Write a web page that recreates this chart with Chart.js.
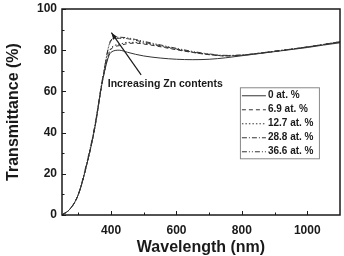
<!DOCTYPE html>
<html lang="en">
<head>
<meta charset="UTF-8">
<title>Transmittance vs wavelength</title>
<script src="https://cdn.jsdelivr.net/npm/chart.js"></script>
<style>
  body { margin: 0; background: #fff; }
</style>
</head>
<body>
<canvas id="chart" width="344" height="256"></canvas>
<script>
// wavelength (nm) sample points
const wavelengths = [250, 275, 300, 325, 350, 375, 400, 425, 450, 475, 500, 550, 600, 650, 700, 750, 800, 850, 900, 950, 1000, 1050, 1100];
const zn0   = [0, 3, 10, 24, 42, 66, 79.0, 80.0, 79.0, 78.0, 77.2, 76.2, 75.6, 75.4, 75.6, 76.3, 77.3, 78.3, 79.3, 80.3, 81.3, 82.5, 83.6];
const zn69  = [0, 3, 10, 24, 42, 66, 80.5, 82.2, 83.2, 83.4, 83.0, 81.7, 80.2, 78.9, 77.8, 77.2, 77.5, 78.4, 79.4, 80.4, 81.5, 82.7, 83.9];
const zn127 = [0, 3, 10, 24, 42, 66, 81.0, 82.8, 83.8, 83.8, 83.4, 82.0, 80.4, 79.0, 77.9, 77.3, 77.6, 78.5, 79.5, 80.5, 81.6, 82.8, 84.0];
const zn288 = [0, 3, 10, 24, 43, 67, 84.5, 85.8, 85.6, 84.8, 83.9, 82.2, 80.6, 79.1, 78.0, 77.3, 77.6, 78.5, 79.5, 80.5, 81.6, 82.8, 84.1];
const zn366 = [0, 3, 10, 25, 43, 67, 85.0, 86.3, 86.0, 85.2, 84.3, 82.6, 80.9, 79.4, 78.2, 77.5, 77.7, 78.5, 79.5, 80.5, 81.6, 82.8, 84.2];

const seriesLabels = ['0 at. %', '6.9 at. %', '12.7 at. %', '28.8 at. %', '36.6 at. %'];
const seriesValues = [zn0, zn69, zn127, zn288, zn366];
const seriesDash = [[], [4, 3], [1.5, 2], [5, 2, 1, 2], [5, 2, 1, 2, 1, 2]];

const xTicks = [400, 600, 800, 1000];
const xMinorTicks = [300, 500, 700, 900];
const yTicks = [0, 20, 40, 60, 80, 100];
const yMinorTicks = [10, 30, 50, 70, 90];

const annotationText = 'Increasing Zn contents';
const arrowFrom = { x: 492, y: 68 };
const arrowTo = { x: 401, y: 88.5 };

const FONT = '"Liberation Sans", Arial, sans-serif';
const INK = '#1a1a1a';

// frame, inward ticks, legend box and the arrow note
const decorations = {
  id: 'decorations',
  afterDraw(chart) {
    const { ctx, chartArea: a, scales: { x, y } } = chart;
    ctx.save();
    ctx.strokeStyle = INK;

    // ticks pointing into the plot
    ctx.lineWidth = 1;
    ctx.beginPath();
    xTicks.forEach(v => { const px = Math.round(x.getPixelForValue(v)) + 0.5; ctx.moveTo(px, a.bottom); ctx.lineTo(px, a.bottom - 4); });
    xMinorTicks.forEach(v => { const px = Math.round(x.getPixelForValue(v)) + 0.5; ctx.moveTo(px, a.bottom); ctx.lineTo(px, a.bottom - 2.5); });
    yTicks.forEach(v => { const py = Math.round(y.getPixelForValue(v)) + 0.5; ctx.moveTo(a.left, py); ctx.lineTo(a.left + 4, py); });
    yMinorTicks.forEach(v => { const py = Math.round(y.getPixelForValue(v)) + 0.5; ctx.moveTo(a.left, py); ctx.lineTo(a.left + 2.5, py); });
    ctx.stroke();

    // frame
    ctx.lineWidth = 1.5;
    ctx.strokeRect(a.left, a.top, a.right - a.left, a.bottom - a.top);

    // legend
    const lx = a.left + (a.right - a.left) * 0.64;
    const ly = a.top + (a.bottom - a.top) * 0.38;
    const lw = 79, rowH = 14;
    ctx.lineWidth = 1;
    ctx.strokeStyle = '#888';
    ctx.strokeRect(lx + 0.5, ly + 0.5, lw, rowH * seriesLabels.length + 1);
    ctx.font = 'bold 10px ' + FONT;
    ctx.fillStyle = INK;
    ctx.textBaseline = 'middle';
    seriesLabels.forEach((lab, i) => {
      const cy = ly + 8 + i * rowH;
      ctx.strokeStyle = '#333';
      ctx.setLineDash(seriesDash[i]);
      ctx.beginPath();
      ctx.moveTo(lx + 2, cy + 0.5);
      ctx.lineTo(lx + 26, cy + 0.5);
      ctx.stroke();
      ctx.setLineDash([]);
      ctx.fillText(lab, lx + 28, cy);
    });

    // arrow
    const x1 = x.getPixelForValue(arrowFrom.x), y1 = y.getPixelForValue(arrowFrom.y);
    const x2 = x.getPixelForValue(arrowTo.x), y2 = y.getPixelForValue(arrowTo.y);
    ctx.strokeStyle = INK;
    ctx.lineWidth = 1.2;
    ctx.beginPath();
    ctx.moveTo(x1, y1);
    ctx.lineTo(x2, y2);
    ctx.stroke();
    const ang = Math.atan2(y2 - y1, x2 - x1);
    ctx.beginPath();
    ctx.moveTo(x2, y2);
    ctx.lineTo(x2 - 7 * Math.cos(ang - 0.35), y2 - 7 * Math.sin(ang - 0.35));
    ctx.lineTo(x2 - 7 * Math.cos(ang + 0.35), y2 - 7 * Math.sin(ang + 0.35));
    ctx.closePath();
    ctx.fill();

    ctx.font = 'bold 10.5px ' + FONT;
    ctx.textBaseline = 'alphabetic';
    ctx.textAlign = 'left';
    ctx.fillText(annotationText, x.getPixelForValue(390), y.getPixelForValue(62.3));
    ctx.restore();
  }
};

new Chart(document.getElementById('chart'), {
  type: 'line',
  data: {
    datasets: seriesValues.map((vals, i) => ({
      label: seriesLabels[i],
      data: wavelengths.map((w, j) => ({ x: w, y: vals[j] })),
      borderColor: '#333',
      borderWidth: 1,
      borderDash: seriesDash[i],
      pointRadius: 0,
      cubicInterpolationMode: 'monotone',
      fill: false
    }))
  },
  options: {
    responsive: false,
    animation: false,
    devicePixelRatio: 1,
    layout: { padding: { top: 9, right: 4, left: 0, bottom: 0 } },
    plugins: { legend: { display: false }, tooltip: { enabled: false } },
    scales: {
      x: {
        type: 'linear',
        min: 250,
        max: 1100,
        grid: { display: false, drawTicks: false },
        border: { display: false },
        afterBuildTicks: s => { s.ticks = xTicks.map(v => ({ value: v })); },
        afterFit: s => { s.height = 41; s.paddingLeft = 0; s.paddingRight = 0; },
        ticks: { color: INK, padding: 8, maxRotation: 0, callback: v => String(v),
                 font: { family: FONT, size: 12, weight: 'bold' } },
        title: { display: true, text: 'Wavelength (nm)', color: INK, padding: { top: 0, bottom: 0 },
                 font: { family: FONT, size: 16, weight: 'bold', lineHeight: 1 } }
      },
      y: {
        min: 0,
        max: 100,
        grid: { display: false, drawTicks: false },
        border: { display: false },
        afterBuildTicks: s => { s.ticks = yTicks.map(v => ({ value: v })); },
        afterFit: s => { s.width = 62; s.paddingTop = 0; s.paddingBottom = 0; },
        ticks: { color: INK, padding: 5, callback: v => String(v),
                 font: { family: FONT, size: 12, weight: 'bold' } },
        title: { display: true, text: 'Transmittance (%)', color: INK, padding: { top: 6, bottom: 0 },
                 font: { family: FONT, size: 16, weight: 'bold', lineHeight: 1 } }
      }
    }
  },
  plugins: [decorations]
});
</script>
</body>
</html>
